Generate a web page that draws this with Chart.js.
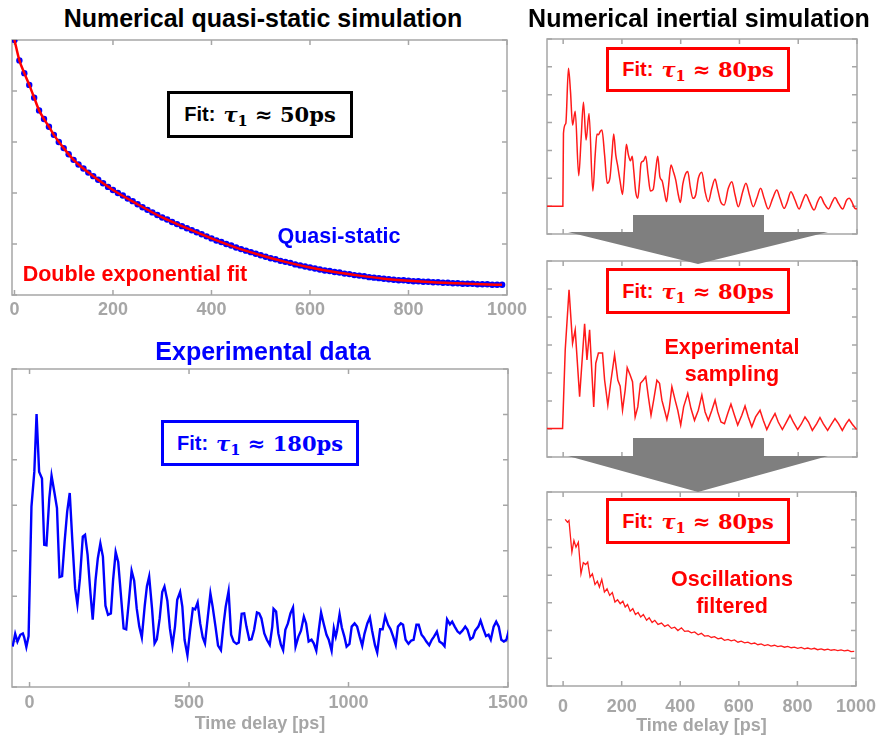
<!DOCTYPE html>
<html><head><meta charset="utf-8">
<script src="https://cdn.jsdelivr.net/npm/chart.js@4.4.1/dist/chart.umd.min.js"></script>
<style>
body{margin:0;background:#fff;width:877px;height:740px;position:relative;overflow:hidden;font-family:"Liberation Sans",Arial,sans-serif;}
canvas{position:absolute;}
.title{position:absolute;font-weight:bold;font-size:25px;white-space:nowrap;transform:translate(-50%,-50%);line-height:1;}
.fit{position:absolute;box-sizing:border-box;border:3px solid;display:flex;align-items:center;justify-content:center;font-weight:bold;font-size:20px;background:#fff;white-space:nowrap;z-index:5;}
.fit .m{font-family:"DejaVu Serif",serif;font-weight:bold;margin-left:8px;font-size:21px;}
.fit .m i{font-style:italic;}
.fit sub{font-size:0.7em;vertical-align:-0.3em;line-height:0;}
.lbl{position:absolute;font-weight:bold;font-size:21.5px;white-space:nowrap;transform:translate(-50%,-50%);text-align:center;line-height:27px;z-index:5;}
.arrow{position:absolute;background:#7f7f7f;z-index:6;}
</style></head><body>
<canvas id="cQS"></canvas>
<canvas id="cEXP"></canvas>
<canvas id="cA"></canvas>
<canvas id="cB"></canvas>
<canvas id="cC"></canvas>

<div class="title" style="left:263px;top:18px;color:#000;">Numerical quasi-static simulation</div>
<div class="title" style="left:699px;top:18px;color:#000;">Numerical inertial simulation</div>
<div class="title" style="left:263px;top:351px;color:#0000ff;">Experimental data</div>

<div class="fit" style="left:167px;top:91px;width:186px;height:47px;border-color:#000;color:#000;">Fit:<span class="m"><i>τ</i><sub>1</sub> ≈ 50ps</span></div>
<div class="fit" style="left:161px;top:420px;width:198px;height:46px;border-color:#0000ff;color:#0000ff;">Fit:<span class="m"><i>τ</i><sub>1</sub> ≈ 180ps</span></div>
<div class="fit" style="left:606px;top:47px;width:184px;height:45px;border-color:#ff0000;color:#ff0000;">Fit:<span class="m"><i>τ</i><sub>1</sub> ≈ 80ps</span></div>
<div class="fit" style="left:606px;top:268px;width:184px;height:46px;border-color:#ff0000;color:#ff0000;">Fit:<span class="m"><i>τ</i><sub>1</sub> ≈ 80ps</span></div>
<div class="fit" style="left:606px;top:498px;width:184px;height:46px;border-color:#ff0000;color:#ff0000;">Fit:<span class="m"><i>τ</i><sub>1</sub> ≈ 80ps</span></div>

<div class="lbl" style="left:339px;top:236px;color:#0000ff;">Quasi-static</div>
<div class="lbl" style="left:135px;top:274px;color:#ff0000;">Double exponential fit</div>
<div class="lbl" style="left:732px;top:361px;color:#ff0000;">Experimental<br>sampling</div>
<div class="lbl" style="left:732px;top:593px;color:#ff0000;">Oscillations<br>filtered</div>

<div class="arrow" style="left:568px;top:215px;width:260px;height:49px;clip-path:polygon(65px 0,196px 0,196px 17px,260px 17px,130px 49px,0 17px,65px 17px);"></div>
<div class="arrow" style="left:568px;top:438px;width:260px;height:54px;clip-path:polygon(65px 0,196px 0,196px 18px,260px 18px,130px 54px,0 18px,65px 18px);"></div>

<script>
// ---------- DATA ----------
// Quasi-static simulation (blue dots) and double exponential fit (red line)
const qsTime = [0,10,20,30,40,50,60,70,80,90,100,110,120,130,140,150,160,170,180,190,200,210,220,230,240,250,260,270,280,290,300,310,320,330,340,350,360,370,380,390,400,410,420,430,440,450,460,470,480,490,500,510,520,530,540,550,560,570,580,590,600,610,620,630,640,650,660,670,680,690,700,710,720,730,740,750,760,770,780,790,800,810,820,830,840,850,860,870,880,890,900,910,920,930,940,950,960,970,980,990];
const qsValues = [5.00,4.60,4.35,4.12,3.87,3.62,3.45,3.30,3.14,3.00,
2.88,2.76,2.65,2.56,2.48,2.40,2.33,2.26,2.19,2.12,
2.06,2.00,1.95,1.89,1.84,1.78,1.72,1.67,1.62,1.57,
1.52,1.48,1.43,1.39,1.35,1.31,1.27,1.23,1.19,1.15,
1.11,1.07,1.04,1.00,0.97,0.93,0.90,0.87,0.84,0.81,
0.78,0.75,0.72,0.70,0.67,0.65,0.63,0.60,0.58,0.56,
0.54,0.52,0.50,0.48,0.47,0.45,0.44,0.42,0.41,0.39,
0.38,0.37,0.35,0.34,0.33,0.32,0.31,0.30,0.29,0.29,
0.28,0.27,0.27,0.26,0.26,0.25,0.25,0.24,0.24,0.23,
0.23,0.22,0.22,0.22,0.21,0.21,0.21,0.20,0.20,0.20];
const fitTime = [0,10,20,30,40,50,60,70,80,100,120,140,160,180,200,250,300,350,400,450,500,550,600,650,700,750,800,850,900,950,990];
const fitValues = [5.00,4.60,4.35,4.12,3.87,3.62,3.45,3.30,3.14,2.88,2.65,2.48,2.33,2.19,2.06,1.78,1.52,1.31,1.11,0.93,0.78,0.65,0.54,0.45,0.38,0.32,0.28,0.25,0.23,0.21,0.20];

// Experimental data (blue line)
const expTime = [-53,-45,-38,-29,-21,-17,-10,-3,6,15,
22,30,39,46,53,62,69,78,86,94,
102,110,118,126,134,143,150,158,167,174,
182,191,198,207,214,222,230,238,246,255,
262,270,278,286,295,303,311,320,328,336,
344,352,361,368,375,384,392,399,408,416,
423,432,440,448,456,463,472,479,486,495,
503,512,519,527,535,543,550,559,567,574,
583,591,600,608,615,624,632,640,649,656,
665,673,680,689,696,704,713,720,727,736,
744,753,761,765,773,780,788,795,802,810,
818,826,834,843,851,860,867,875,884,891,
899,907,914,922,931,938,947,954,960,964,
972,979,987,994,1003,1010,1019,1027,1035,1043,
1050,1059,1067,1074,1083,1090,1099,1107,1115,1124,
1132,1140,1148,1155,1164,1171,1179,1188,1196,1204,
1213,1220,1229,1236,1244,1253,1261,1268,1277,1285,
1294,1301,1309,1318,1325,1333,1342,1349,1357,1366,
1373,1382,1390,1397,1407,1414,1422,1431,1439,1446,
1455,1463,1471,1479,1487,1495,1503];
const expValues = [0.89,1.17,1.00,1.15,1.18,1.10,0.88,1.12,3.97,4.74,
6.01,4.74,4.59,3.13,3.12,4.16,4.65,4.28,3.94,2.42,
2.44,3.20,3.86,4.27,3.24,2.17,1.82,2.39,3.31,3.35,
2.91,2.06,1.48,2.36,2.83,3.16,2.87,1.79,1.59,1.62,
2.36,2.97,2.75,2.06,1.29,1.27,1.86,2.56,2.34,1.73,
1.33,1.09,1.78,2.22,2.43,1.73,0.96,1.05,1.51,2.09,
2.21,1.90,1.29,0.91,1.33,1.92,2.09,1.77,1.04,0.70,
1.22,1.73,1.71,1.86,1.40,1.09,0.96,1.55,2.06,1.77,
1.33,0.91,0.81,1.37,1.77,2.11,1.15,1.00,0.95,0.98,
1.61,1.62,1.33,1.04,1.05,1.26,1.64,1.62,1.51,1.18,
1.04,0.93,1.33,1.72,1.66,1.18,0.93,0.81,1.26,1.40,
1.62,1.75,0.89,1.11,1.24,1.55,1.40,1.00,1.04,0.96,
0.80,1.26,1.64,1.40,1.15,1.04,0.80,1.29,1.11,1.24,
1.60,1.31,1.11,0.89,0.95,1.33,1.40,1.33,1.11,0.91,
1.17,1.40,1.53,1.24,0.92,0.76,1.27,1.27,1.56,1.37,
1.27,1.11,0.93,1.33,1.40,1.37,1.04,0.95,1.02,1.04,
1.37,1.37,1.15,1.09,1.00,0.92,1.04,1.11,1.22,1.00,
0.96,0.90,1.49,1.38,1.44,1.33,1.22,1.18,1.24,1.33,
1.26,1.05,1.09,1.24,1.33,1.46,1.29,1.12,1.15,1.04,
1.33,1.44,1.33,1.04,1.00,1.04,1.26];

// Numerical inertial simulation (full resolution)
const simTime = [-55,-1,1,9,18,25,32,41,53,61,
69,78,88,101,109,115,120,126,132,141,
150,159,166,172,179,186,194,202,209,215,
222,229,235,240,247,254,260,265,273,281,
289,297,306,315,322,329,337,344,352,358,
367,375,383,392,399,407,415,424,433,442,
451,460,472,483,494,506,517,525,536,548,
562,574,585,596,611,622,634,647,659,672,
684,698,713,727,738,752,763,775,789,803,
814,826,838,854,866,876,888,903,916,925,
937,951,965,974,982,993,1000];
const simValues = [1.00,1.00,3.61,3.97,5.95,5.11,3.91,4.41,2.09,3.40,
4.73,3.37,4.33,1.54,2.84,3.59,3.56,3.68,3.73,2.84,
1.82,2.00,2.84,3.59,2.84,2.42,1.88,1.42,2.35,3.22,
2.84,2.63,2.79,2.30,1.50,1.28,1.88,2.54,2.62,2.79,
2.12,1.54,1.59,2.30,2.79,2.06,1.90,1.54,1.16,1.66,
2.48,2.24,1.94,1.40,1.13,1.78,2.12,2.24,1.66,1.28,
1.40,2.00,2.22,1.52,1.16,1.64,1.97,1.64,1.16,1.04,
1.64,1.88,1.40,0.98,1.52,1.82,1.40,0.98,1.28,1.64,
1.28,0.90,1.28,1.58,1.28,0.92,1.16,1.52,1.22,0.90,
1.16,1.42,1.16,0.86,1.16,1.34,1.10,0.90,1.16,1.31,
1.10,0.90,1.22,1.28,1.16,0.92,0.90];

// Numerical inertial simulation with experimental sampling
const sampTime = [-55,-2,7,20,32,41,56,73,81,90,
104,111,120,134,141,152,163,175,186,194,
202,211,218,228,236,245,254,263,273,281,
290,299,308,319,328,336,345,353,361,370,
381,390,400,410,424,435,447,460,472,483,
494,506,517,526,537,549,560,571,583,594,
608,619,630,642,655,670,681,693,707,721,
732,746,757,772,783,798,810,823,835,848,
863,874,885,900,914,925,937,950,963,973,
984,999];
const sampValues = [1.02,1.02,3.82,5.97,4.06,4.54,2.15,4.76,3.47,4.54,
1.79,3.35,3.71,3.71,2.75,1.85,2.75,3.65,2.75,2.53,
1.67,2.39,3.19,2.93,2.69,1.43,1.79,2.63,2.75,2.87,
2.15,1.49,2.03,2.74,2.63,2.03,1.67,1.34,1.73,2.51,
2.03,1.67,1.14,1.79,2.27,1.73,1.31,1.67,2.21,1.61,
1.31,1.67,2.03,1.61,1.25,1.19,1.55,1.89,1.49,1.14,
1.49,1.82,1.43,1.08,1.43,1.67,1.31,0.98,1.29,1.55,
1.25,0.98,1.19,1.49,1.25,0.98,1.17,1.43,1.25,0.95,
1.19,1.41,1.19,0.95,1.19,1.37,1.19,0.95,1.19,1.34,
1.17,0.98];

// Oscillations filtered
const filtTime = [7,15,20,30,37,44,52,61,69,77,
84,92,100,109,117,124,132,141,150,159,
168,177,186,195,204,212,220,229,238,247,
256,265,274,285,294,304,313,324,336,347,
358,370,381,392,404,415,427,438,449,461,
472,483,495,506,517,529,540,551,563,574,
585,597,608,620,631,642,654,665,676,688,
699,710,722,733,744,756,767,779,790,801,
813,824,835,847,858,869,881,892,904,915,
926,938,949,960,972,983,994];
const filtValues = [6.01,5.91,5.97,4.83,5.25,5.01,5.19,4.05,4.45,4.38,
4.47,3.93,4.05,3.66,3.78,3.57,3.85,3.39,3.51,3.27,
3.37,3.03,3.11,2.97,3.06,2.85,2.94,2.70,2.79,2.58,
2.65,2.49,2.58,2.37,2.46,2.29,2.37,2.22,2.27,2.15,
2.21,2.08,2.12,2.00,2.10,1.97,1.99,1.92,1.95,1.85,
1.90,1.80,1.82,1.75,1.78,1.70,1.73,1.65,1.68,1.63,
1.66,1.58,1.62,1.56,1.58,1.52,1.55,1.49,1.52,1.46,
1.49,1.44,1.47,1.42,1.45,1.40,1.43,1.38,1.40,1.36,
1.39,1.34,1.37,1.33,1.36,1.31,1.34,1.30,1.33,1.29,
1.31,1.28,1.30,1.27,1.29,1.24,1.25];

// Tick values
const qsXTicks = [0,200,400,600,800,1000];
const qsYTicks = [0,1,2,3,4,5];
const expXTicks = [0,500,1000,1500];
const simXTicks = [0,200,400,600,800,1000];
const yTicks7 = [0,1,2,3,4,5,6,7];

// ---------- RENDERING ----------
const GRAY = '#a6a6a6';
Chart.defaults.font.family = "'Liberation Sans', Arial, sans-serif";

const boxPlugin = {
  id: 'mbox',
  beforeDatasetsDraw(chart) {
    const {ctx, chartArea: a} = chart;
    const xs = chart.scales.x, ys = chart.scales.y;
    ctx.save();
    ctx.strokeStyle = GRAY;
    ctx.lineWidth = 1.5;
    ctx.strokeRect(a.left, a.top, a.right - a.left, a.bottom - a.top);
    ctx.beginPath();
    const L = 5;
    xs.ticks.forEach(t => {
      const p = xs.getPixelForValue(t.value);
      ctx.moveTo(p, a.bottom); ctx.lineTo(p, a.bottom - L);
      ctx.moveTo(p, a.top); ctx.lineTo(p, a.top + L);
    });
    ys.ticks.forEach(t => {
      const p = ys.getPixelForValue(t.value);
      ctx.moveTo(a.left, p); ctx.lineTo(a.left + L, p);
      ctx.moveTo(a.right, p); ctx.lineTo(a.right - L, p);
    });
    ctx.stroke();
    ctx.restore();
  }
};

const pts = (xs, ys) => xs.map((x, i) => ({x: x, y: ys[i]}));

function makeChart(id, rect, xr, yr, xTicks, yTicks, datasets, lab) {
  const PL = 30, PR = 30, PT = 6, PB = lab.pb;
  const cv = document.getElementById(id);
  const w = rect.r - rect.l + PL + PR, h = rect.b - rect.t + PT + PB;
  cv.width = w; cv.height = h;
  cv.style.left = (rect.l - PL) + 'px';
  cv.style.top = (rect.t - PT) + 'px';
  cv.style.width = w + 'px';
  cv.style.height = h + 'px';
  return new Chart(cv, {
    type: 'line',
    data: { datasets: datasets },
    options: {
      responsive: false, animation: false, devicePixelRatio: 1,
      layout: { padding: { left: PL, right: PR, top: PT, bottom: 0 } },
      plugins: { legend: { display: false }, tooltip: { enabled: false } },
      scales: {
        x: {
          type: 'linear', position: 'bottom', min: xr[0], max: xr[1],
          grid: { display: false, drawTicks: false }, border: { display: false },
          afterBuildTicks: s => { s.ticks = xTicks.map(v => ({ value: v })); },
          afterFit: s => { s.height = PB; },
          ticks: { display: lab.ticks, padding: lab.tp, maxRotation: 0, autoSkip: false,
                   color: GRAY, font: { size: 18, weight: 'bold' }, callback: v => String(v) },
          title: { display: !!lab.title, text: lab.title || '', color: GRAY,
                   font: { size: 18, weight: 'bold' }, padding: 0 }
        },
        y: {
          type: 'linear', min: yr[0], max: yr[1],
          grid: { display: false, drawTicks: false }, border: { display: false },
          afterBuildTicks: s => { s.ticks = yTicks.map(v => ({ value: v })); },
          afterFit: s => { s.width = 0; },
          ticks: { display: false }
        }
      }
    },
    plugins: [boxPlugin]
  });
}

// Quasi-static
makeChart('cQS', {l: 12, t: 40, r: 507, b: 295}, [-5, 1000], [0, 5], qsXTicks, qsYTicks, [
  { data: pts(fitTime, fitValues), borderColor: '#ff0000', borderWidth: 2.5, pointRadius: 0,
    cubicInterpolationMode: 'monotone', order: 0 },
  { data: pts(qsTime, qsValues), showLine: false, pointRadius: 3.2, pointBorderWidth: 0,
    pointBackgroundColor: '#0000ff', borderColor: '#0000ff', order: 1 }
], { pb: 30, tp: 4, ticks: true });

// Experimental
makeChart('cEXP', {l: 12, t: 369, r: 508, b: 687}, [-55, 1500], [0, 7], expXTicks, yTicks7, [
  { data: pts(expTime, expValues), borderColor: '#0000ff', borderWidth: 2.4, pointRadius: 0, tension: 0 }
], { pb: 48, tp: 5, ticks: true, title: 'Time delay [ps]' });

// Inertial simulation
makeChart('cA', {l: 547, t: 39, r: 857, b: 234}, [-55, 1000], [0, 7], simXTicks, yTicks7, [
  { data: pts(simTime, simValues), borderColor: '#ff1a1a', borderWidth: 1.5, pointRadius: 0,
    cubicInterpolationMode: 'monotone' }
], { pb: 8, tp: 4, ticks: false });

// Experimental sampling
makeChart('cB', {l: 547, t: 261, r: 857, b: 457}, [-55, 1000], [0, 7], simXTicks, yTicks7, [
  { data: pts(sampTime, sampValues), borderColor: '#ff1a1a', borderWidth: 1.5, pointRadius: 0, tension: 0 }
], { pb: 8, tp: 4, ticks: false });

// Oscillations filtered
makeChart('cC', {l: 547, t: 492, r: 856, b: 686}, [-55, 1000], [0, 7], simXTicks, yTicks7, [
  { data: pts(filtTime, filtValues), borderColor: '#ff1a1a', borderWidth: 1.3, pointRadius: 0, tension: 0 }
], { pb: 51, tp: 10, ticks: true, title: 'Time delay [ps]' });
</script>
</body></html>
